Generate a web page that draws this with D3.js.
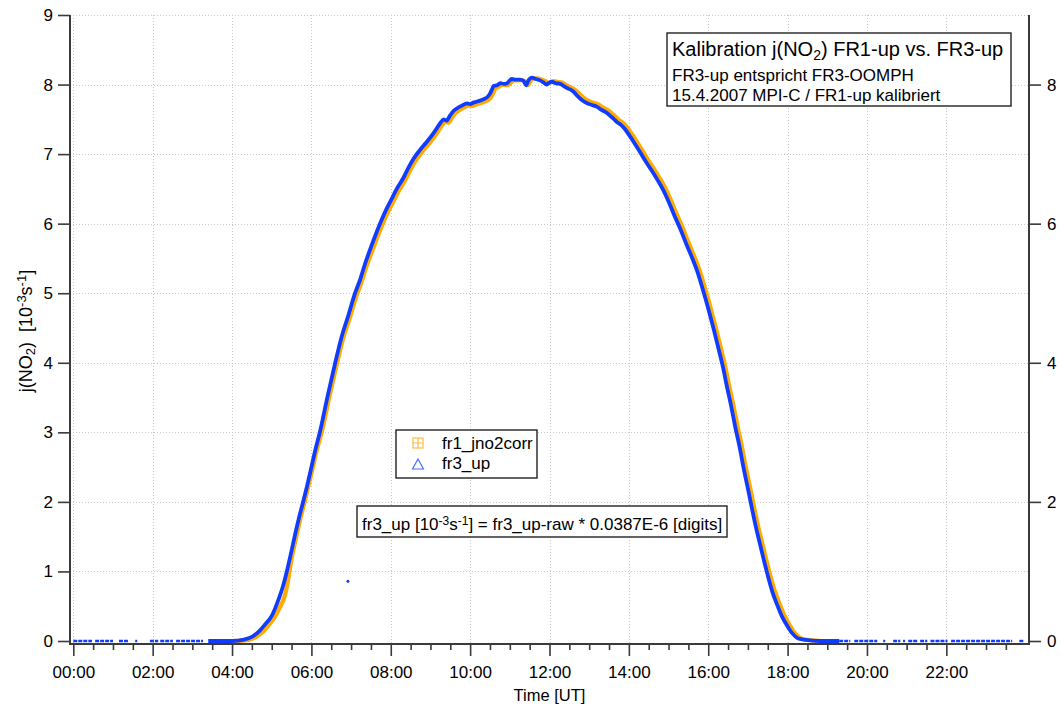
<!DOCTYPE html>
<html>
<head>
<meta charset="utf-8">
<script src="https://cdn.jsdelivr.net/npm/d3@7"></script>
<style>
  html, body { margin: 0; padding: 0; background: #fff; }
  svg { display: block; font-family: "Liberation Sans", Arial, sans-serif; }
  text { white-space: pre; }
</style>
</head>
<body>
<svg id="chart" width="1062" height="708"></svg>
<script>
// ---------------- DATA ----------------
const majorHours = [0, 2, 4, 6, 8, 10, 12, 14, 16, 18, 20, 22];
const minorHours = [0.5, 1, 1.5, 2.5, 3, 3.5, 4.5, 5, 5.5, 6.5, 7, 7.5, 8.5, 9, 9.5, 10.5, 11, 11.5,
  12.5, 13, 13.5, 14.5, 15, 15.5, 16.5, 17, 17.5, 18.5, 19, 19.5, 20.5, 21, 21.5, 22.5, 23, 23.5];
const leftTicks = [0, 1, 2, 3, 4, 5, 6, 7, 8, 9];
const rightTicks = [0, 2, 4, 6, 8];

// fr3_up (blue): time [h UT], value [1e-3 s^-1]
const fr3Hours = [3.40, 4.00, 4.30, 4.50, 4.70, 4.85, 5.00, 5.10, 5.20, 5.30, 5.38, 5.50, 5.60, 5.70, 5.80, 5.90,
  6.00, 6.10, 6.22, 6.40, 6.60, 6.75, 6.93, 7.10, 7.23, 7.35, 7.48, 7.70, 7.90, 8.00, 8.15, 8.32, 8.45, 8.57,
  8.75, 8.90, 9.10, 9.24, 9.33, 9.40, 9.50, 9.58, 9.70, 9.80, 9.92, 10.00, 10.08, 10.20, 10.34, 10.45, 10.50,
  10.55, 10.59, 10.68, 10.76, 10.85, 10.93, 11.00, 11.05, 11.15, 11.26, 11.35, 11.41, 11.47, 11.56, 11.65,
  11.76, 11.85, 11.93, 12.00, 12.06, 12.15, 12.27, 12.35, 12.44, 12.52, 12.60, 12.68, 12.77, 12.86, 12.95,
  13.05, 13.20, 13.30, 13.45, 13.53, 13.61, 13.70, 13.80, 13.90, 14.00, 14.15, 14.28, 14.43, 14.58, 14.72,
  14.87, 15.00, 15.13, 15.30, 15.46, 15.60, 15.72, 15.86, 16.00, 16.13, 16.26, 16.37, 16.47, 16.58, 16.68,
  16.79, 16.89, 17.00, 17.10, 17.20, 17.31, 17.42, 17.52, 17.62, 17.73, 17.86, 18.00, 18.12, 18.23, 18.40,
  18.57, 18.80, 19.30];
const fr3Up = [0, 0.00, 0.02, 0.06, 0.15, 0.25, 0.36, 0.49, 0.64, 0.82, 1.00, 1.30, 1.56, 1.80, 2.02, 2.25,
  2.50, 2.75, 3.02, 3.50, 4.00, 4.35, 4.68, 5.00, 5.20, 5.42, 5.63, 5.96, 6.22, 6.33, 6.50, 6.66, 6.81, 6.93,
  7.07, 7.17, 7.32, 7.44, 7.50, 7.48, 7.56, 7.62, 7.67, 7.70, 7.73, 7.72, 7.74, 7.76, 7.79, 7.83, 7.87,
  7.93, 7.98, 7.99, 8.02, 8.01, 8.02, 8.06, 8.08, 8.07, 8.07, 8.05, 7.99, 8.06, 8.10, 8.08,
  8.06, 8.03, 8.00, 8.03, 8.04, 8.02, 8.01, 7.98, 7.95, 7.93, 7.90, 7.85, 7.80, 7.76, 7.73,
  7.71, 7.68, 7.64, 7.59, 7.55, 7.51, 7.46, 7.42, 7.36, 7.28, 7.15, 7.03, 6.89, 6.76, 6.63,
  6.48, 6.32, 6.14, 5.92, 5.69, 5.50, 5.32, 5.06, 4.78, 4.50, 4.20, 3.94, 3.66, 3.37, 3.08,
  2.79, 2.49, 2.19, 1.91, 1.64, 1.38, 1.12, 0.90, 0.70, 0.53, 0.35, 0.21, 0.11, 0.05, 0.02,
  0.01, 0.00, 0.00];

// fr1_jno2corr (orange)
const fr1Hours = [4.00, 4.35, 4.55, 4.75, 4.90, 5.05, 5.15, 5.22, 5.30, 5.36, 5.42, 5.50, 5.62, 5.73, 5.83, 5.93,
  6.03, 6.13, 6.26, 6.44, 6.64, 6.79, 6.97, 7.14, 7.27, 7.39, 7.52, 7.75, 7.95, 8.05, 8.20, 8.37, 8.50, 8.62,
  8.80, 8.95, 9.15, 9.29, 9.38, 9.45, 9.55, 9.63, 9.75, 9.85, 9.97, 10.05, 10.13, 10.25, 10.39, 10.50, 10.55,
  10.60, 10.64, 10.73, 10.81, 10.90, 10.98, 11.05, 11.10, 11.20, 11.30, 11.40, 11.46, 11.52, 11.61, 11.70,
  11.81, 11.90, 11.98, 12.05, 12.11, 12.20, 12.32, 12.40, 12.49, 12.57, 12.65, 12.73, 12.82, 12.91, 13.00,
  13.10, 13.25, 13.35, 13.50, 13.58, 13.66, 13.75, 13.85, 13.95, 14.05, 14.20, 14.33, 14.48, 14.63, 14.77,
  14.92, 15.05, 15.18, 15.35, 15.51, 15.65, 15.77, 15.91, 16.05, 16.18, 16.31, 16.42, 16.52, 16.63, 16.73,
  16.84, 16.94, 17.05, 17.15, 17.25, 17.36, 17.47, 17.57, 17.67, 17.78, 17.91, 18.05, 18.17, 18.28, 18.45,
  18.62, 18.85];
const fr1Jno2corr = [0, 0.01, 0.04, 0.12, 0.21, 0.32, 0.42, 0.50, 0.60, 0.72, 0.90, 1.18, 1.50, 1.78, 2.00, 2.24,
  2.48, 2.73, 3.00, 3.48, 3.98, 4.33, 4.65, 4.97, 5.17, 5.39, 5.59, 5.93, 6.19, 6.30, 6.47, 6.63, 6.78, 6.90,
  7.04, 7.14, 7.29, 7.41, 7.47, 7.45, 7.53, 7.59, 7.64, 7.67, 7.70, 7.69, 7.71, 7.73, 7.76, 7.80, 7.84,
  7.90, 7.95, 7.97, 8.00, 7.99, 8.00, 8.04, 8.06, 8.06, 8.06, 8.04, 7.99, 8.05, 8.09, 8.09,
  8.07, 8.05, 8.02, 8.04, 8.05, 8.04, 8.03, 8.00, 7.97, 7.95, 7.92, 7.88, 7.83, 7.79, 7.76,
  7.74, 7.71, 7.67, 7.62, 7.58, 7.54, 7.49, 7.45, 7.39, 7.31, 7.18, 7.06, 6.92, 6.79, 6.66,
  6.51, 6.35, 6.17, 5.95, 5.72, 5.53, 5.35, 5.09, 4.81, 4.53, 4.23, 3.97, 3.69, 3.40, 3.11,
  2.82, 2.52, 2.22, 1.94, 1.67, 1.41, 1.15, 0.93, 0.73, 0.56, 0.38, 0.23, 0.12, 0.06, 0.02,
  0.01, 0.00];

// night-time fr3_up marker runs (value ~0): [start h, end h]
const nightRunsStart = [0.00, 0.55, 1.15, 1.56, 1.93, 2.19, 2.59, 19.30, 19.68, 20.41, 20.66, 20.91, 21.04, 21.34, 21.60, 22.12, 23.84];
const nightRunsEnd   = [0.47, 1.00, 1.38, 1.61, 2.14, 2.51, 3.27, 19.58, 20.26, 20.46, 20.84, 20.96, 21.27, 21.52, 22.03, 23.66, 23.94];
// isolated fr3_up outlier
const outlierHour = [6.92];
const outlierValue = [0.86];

const seriesNames = ["fr1_jno2corr", "fr3_up"];
const colOrange = "#ffaa00";
const colBlue = "#0f3cff";

// ---------------- CHART ----------------
const svg = d3.select("#chart");
const L = 70, R = 1029, T = 15, B0 = 641, AX = 644;

const x = d3.scaleLinear().domain([-5 / 60, 24 + 5 / 60]).range([L, R]);
const y = d3.scaleLinear().domain([0, 9]).range([B0, T]);

// grid
const grid = svg.append("g").attr("stroke", "#c9c9c9").attr("stroke-width", 1).attr("stroke-dasharray", "1,2");
grid.selectAll("line.h").data(leftTicks.filter(d => d > 0)).join("line")
  .attr("x1", L).attr("x2", R).attr("y1", d => Math.round(y(d)) + 0.5).attr("y2", d => Math.round(y(d)) + 0.5);
grid.selectAll("line.v").data(majorHours).join("line")
  .attr("y1", T).attr("y2", AX).attr("x1", d => Math.round(x(d)) + 0.5).attr("x2", d => Math.round(x(d)) + 0.5);

// series
const line = d3.line().x(d => x(d[0])).y(d => y(d[1])).curve(d3.curveMonotoneX);
const orangeData = fr1Hours.map((h, i) => [h, fr1Jno2corr[i]]);
const blueData = fr3Hours.map((h, i) => [h, fr3Up[i]]);

svg.append("path").datum(orangeData).attr("d", line)
  .attr("fill", "none").attr("stroke", colOrange).attr("stroke-width", 4.2).attr("stroke-linejoin", "round");
svg.append("path").datum(blueData).attr("d", line)
  .attr("fill", "none").attr("stroke", colBlue).attr("stroke-width", 3.8).attr("stroke-linejoin", "round");

svg.append("g").selectAll("line").data(nightRunsStart).join("line")
  .attr("x1", (d) => x(d)).attr("x2", (d, i) => x(nightRunsEnd[i]))
  .attr("y1", y(0)).attr("y2", y(0))
  .attr("stroke", colBlue).attr("stroke-width", 2.4).attr("stroke-dasharray", "4,1");

svg.append("g").selectAll("circle").data(outlierHour).join("circle")
  .attr("cx", d => x(d)).attr("cy", (d, i) => y(outlierValue[i])).attr("r", 1.5).attr("fill", colBlue);

// axes
const axisColor = "#3a3a3a";
function styleAxis(g) {
  g.select(".domain").remove();
  g.selectAll(".tick line").attr("stroke", axisColor).attr("stroke-width", 1.6);
  g.selectAll(".tick text").attr("fill", "#000").style("font-size", "17px")
    .style("font-family", '"Liberation Sans", Arial, sans-serif');
}

const fmt = h => String(h).padStart(2, "0") + ":00";
svg.append("g").attr("transform", `translate(0,${AX})`)
  .call(d3.axisBottom(x).tickValues(majorHours).tickFormat(fmt).tickSize(12).tickPadding(10))
  .call(styleAxis);
svg.append("g").attr("transform", `translate(0,${AX})`)
  .call(d3.axisBottom(x).tickValues(minorHours).tickFormat("").tickSize(6))
  .call(styleAxis);

svg.append("g").attr("transform", `translate(${L},0)`)
  .call(d3.axisLeft(y).tickValues(leftTicks).tickFormat(d3.format("d")).tickSize(12).tickPadding(5))
  .call(styleAxis);
svg.append("g").attr("transform", `translate(${R},0)`)
  .call(d3.axisRight(y).tickValues(rightTicks).tickFormat(d3.format("d")).tickSize(12).tickPadding(6))
  .call(styleAxis);

const frame = svg.append("g").attr("stroke", axisColor).attr("stroke-width", 2);
frame.append("line").attr("x1", L).attr("x2", L).attr("y1", T).attr("y2", AX + 1);
frame.append("line").attr("x1", R).attr("x2", R).attr("y1", T).attr("y2", AX + 1);
frame.append("line").attr("x1", L).attr("x2", R + 1).attr("y1", AX).attr("y2", AX);

// axis titles
svg.append("text").attr("x", (x(0) + x(24)) / 2).attr("y", 701).attr("text-anchor", "middle")
  .style("font-size", "16.5px").text("Time [UT]");

const yl = svg.append("text").attr("transform", "translate(32,331) rotate(-90)").attr("text-anchor", "middle")
  .style("font-size", "18px");
yl.append("tspan").text("j(NO");
yl.append("tspan").attr("baseline-shift", "-25%").style("font-size", "13px").text("2");
yl.append("tspan").text(")  [10");
yl.append("tspan").attr("baseline-shift", "45%").style("font-size", "13px").text("-3");
yl.append("tspan").text("s");
yl.append("tspan").attr("baseline-shift", "45%").style("font-size", "13px").text("-1");
yl.append("tspan").text("]");

// title box
svg.append("rect").attr("x", 667).attr("y", 33).attr("width", 344).attr("height", 73)
  .attr("fill", "#fff").attr("stroke", "#222").attr("stroke-width", 1.4);
const t1 = svg.append("text").attr("x", 672).attr("y", 56).style("font-size", "20px");
t1.append("tspan").text("Kalibration j(NO");
t1.append("tspan").attr("baseline-shift", "-25%").style("font-size", "14px").text("2");
t1.append("tspan").text(") FR1-up vs. FR3-up");
svg.append("text").attr("x", 672).attr("y", 81).style("font-size", "17px").text("FR3-up entspricht FR3-OOMPH");
svg.append("text").attr("x", 672).attr("y", 101).style("font-size", "17px").text("15.4.2007 MPI-C / FR1-up kalibriert");

// legend
svg.append("rect").attr("x", 396).attr("y", 430).attr("width", 141).attr("height", 48)
  .attr("fill", "#fff").attr("stroke", "#222").attr("stroke-width", 1.4);
const lg = svg.append("g");
lg.append("rect").attr("x", 413).attr("y", 438).attr("width", 10).attr("height", 10)
  .attr("fill", "none").attr("stroke", "#ffbb44").attr("stroke-width", 1.2);
lg.append("path").attr("d", "M413,443H423M418,438V448").attr("stroke", "#ffbb44").attr("stroke-width", 1.2);
lg.append("path").attr("d", "M418,459L423.5,469L412.5,469Z").attr("fill", "none")
  .attr("stroke", "#4a6dff").attr("stroke-width", 1.2);
lg.selectAll("text").data(seriesNames).join("text")
  .attr("x", 442).attr("y", (d, i) => 449 + i * 20).style("font-size", "17px").text(d => d);

// annotation box
svg.append("rect").attr("x", 357).attr("y", 506).attr("width", 370).attr("height", 31)
  .attr("fill", "#fff").attr("stroke", "#222").attr("stroke-width", 1.4);
const an = svg.append("text").attr("x", 362).attr("y", 530).style("font-size", "17px");
an.append("tspan").text("fr3_up [10");
an.append("tspan").attr("baseline-shift", "45%").style("font-size", "12px").text("-3");
an.append("tspan").text("s");
an.append("tspan").attr("baseline-shift", "45%").style("font-size", "12px").text("-1");
an.append("tspan").text("] = fr3_up-raw * 0.0387E-6 [digits]");
</script>
</body>
</html>
